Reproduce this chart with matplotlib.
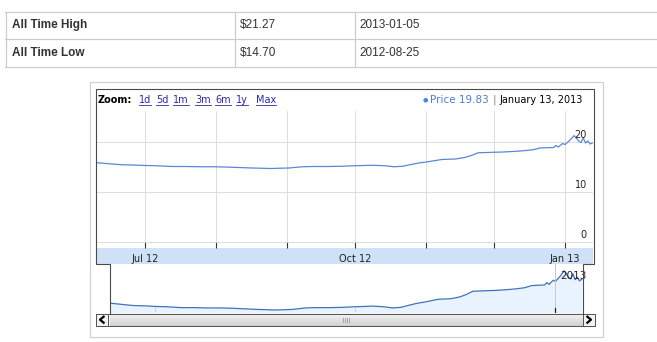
import datetime as dt
import numpy as np
import matplotlib
matplotlib.use("Agg")
import matplotlib.pyplot as plt
import matplotlib.dates as mdates
from matplotlib.patches import Rectangle
from matplotlib import font_manager

# ---------------- data ----------------
table_labels = ["All Time High", "All Time Low"]
table_values = ["$21.27", "$14.70"]
table_dates = ["2013-01-05", "2012-08-25"]

zoom_links = ["1d", "5d", "1m", "3m", "6m", "1y", "Max"]
legend_label = "Price 19.83"
legend_date = "January 13, 2013"

dates = ["2012-06-10", "2012-06-14", "2012-06-18", "2012-06-21", "2012-06-26",
         "2012-07-01", "2012-07-06", "2012-07-13", "2012-07-19", "2012-07-25",
         "2012-07-31", "2012-08-05", "2012-08-11", "2012-08-17", "2012-08-21",
         "2012-08-25", "2012-08-29", "2012-09-02", "2012-09-08", "2012-09-13",
         "2012-09-19", "2012-09-25", "2012-10-01", "2012-10-05", "2012-10-09",
         "2012-10-14", "2012-10-18", "2012-10-22", "2012-10-25", "2012-10-29",
         "2012-11-02", "2012-11-08", "2012-11-14", "2012-11-18", "2012-11-21",
         "2012-11-24", "2012-11-28", "2012-12-01", "2012-12-05", "2012-12-11",
         "2012-12-15", "2012-12-18", "2012-12-21", "2012-12-24", "2012-12-27",
         "2012-12-28", "2012-12-29", "2012-12-31", "2013-01-01", "2013-01-03",
         "2013-01-05", "2013-01-07", "2013-01-08", "2013-01-09", "2013-01-10",
         "2013-01-11", "2013-01-12", "2013-01-13"]
prices = [15.85, 15.70, 15.55, 15.45, 15.40,
          15.30, 15.25, 15.10, 15.10, 15.05,
          15.05, 15.00, 14.90, 14.80, 14.75,
          14.70, 14.75, 14.80, 15.05, 15.10,
          15.10, 15.15, 15.25, 15.30, 15.35,
          15.25, 15.05, 15.15, 15.45, 15.80,
          16.05, 16.50, 16.60, 16.90, 17.30,
          17.85, 17.90, 17.95, 18.00, 18.15,
          18.30, 18.45, 18.80, 18.85, 18.90,
          19.30, 19.00, 19.70, 19.50, 20.30,
          21.27, 20.20, 19.90, 20.80, 19.80,
          20.20, 19.60, 19.83]

month_ticks = ["2012-07-01", "2012-08-01", "2012-09-01", "2012-10-01",
               "2012-11-01", "2012-12-01", "2013-01-01"]
month_labels = ["Jul 12", "", "", "Oct 12", "", "", "Jan 13"]
y_ticks = [0, 10, 20]
year_marker = "2013-01-01"
year_label = "2013"

# ---------------- layout ----------------
W, H = 657, 342
fig = plt.figure(figsize=(W / 100, H / 100), dpi=100)
fig.patch.set_facecolor("white")


def rect(x0, y0, x1, y1):
    return [x0 / W, 1 - y1 / H, (x1 - x0) / W, (y1 - y0) / H]


names = {f.name for f in font_manager.fontManager.ttflist}
if "Liberation Sans Narrow" in names:
    tfont, tsize = "Liberation Sans Narrow", 9.5
else:
    tfont, tsize = "Liberation Sans", 8.5
cfont = "DejaVu Sans"

bg = fig.add_axes([0, 0, 1, 1])
bg.set_xlim(0, W)
bg.set_ylim(H, 0)
bg.axis("off")
bg.set_zorder(0)

px = 0.72  # one pixel in points

# ---------------- table ----------------
tcol = "#cccccc"
for y in (11.5, 38.5, 66.5):
    bg.plot([5, W], [y, y], color=tcol, lw=px * 1.2)
for x in (5.5, 234.5, 354.5):
    bg.plot([x, x], [11.5, 66.5], color=tcol, lw=px * 1.2)
for i in range(2):
    yc = 25 + 28 * i
    bg.text(12, yc, table_labels[i], fontsize=tsize, family=tfont,
            weight="bold", color="#333333", va="center", ha="left")
    bg.text(240, yc, table_values[i], fontsize=tsize, family=tfont,
            color="#333333", va="center", ha="left")
    bg.text(359, yc, table_dates[i], fontsize=tsize, family=tfont,
            color="#333333", va="center", ha="left")

# ---------------- outer light box ----------------
bg.add_patch(Rectangle((89.5, 81.5), 513, 255, fill=False,
                       edgecolor="#d0d0d0", lw=px * 1.2))

# header
bg.text(98, 100, "Zoom:", fontsize=7, family=cfont, weight="bold",
        color="black", va="center", ha="left")
link_x = [139, 156, 173, 195, 215, 236, 256]
link_texts = []
for lx, lab in zip(link_x, zoom_links):
    link_texts.append(bg.text(lx, 100, lab, fontsize=7, family=cfont,
                              color="#2a2aa8", va="center", ha="left"))

date_t = bg.text(583, 100, legend_date, fontsize=7, family=cfont,
                 color="black", va="center", ha="right")

# ---------------- main chart ----------------
dnum = mdates.date2num([dt.datetime.strptime(d, "%Y-%m-%d") for d in dates])
mnum = mdates.date2num([dt.datetime.strptime(d, "%Y-%m-%d") for d in month_ticks])
jul1, oct1 = mnum[0], mnum[3]

ax = fig.add_axes(rect(96, 111, 593, 248))
ax.set_zorder(2)
ax.patch.set_alpha(0)
s = (oct1 - jul1) / (355 - 145)
ax.set_xlim(jul1 - (145 - 96) * s, jul1 + (593 - 145) * s)
ax.set_ylim(-1.2, 26.2)
ax.set_xticks(mnum)
ax.set_xticklabels(month_labels, fontsize=7, family=cfont, color="#222222")
ax.set_yticks(y_ticks)
ax.set_yticklabels([])
ax.tick_params(axis="x", direction="in", length=4, width=0.8, color="#333333",
               pad=4)
ax.tick_params(axis="y", length=0)
ax.grid(True, color="#dcdcdc", lw=0.7)
for sp in ax.spines.values():
    sp.set_visible(False)
ax.plot(dnum, prices, color="#5b87d8", lw=0.9, zorder=3)
for v in y_ticks:
    ax.annotate(str(v), xy=(1, v), xycoords=("axes fraction", "data"),
                xytext=(-4.5, 1.5), textcoords="offset points",
                ha="right", va="bottom", fontsize=7, family=cfont,
                color="#222222")

# x-axis band
bg.add_patch(Rectangle((96, 248), 497, 15.5, facecolor="#cfe1f6",
                       edgecolor="none"))

# ---------------- navigator ----------------
nav = fig.add_axes(rect(109.5, 263.5, 582.5, 313))
nav.set_zorder(1)
s2 = (oct1 - jul1) / (355 - 155)
nav.set_xlim(jul1 - (155 - 109) * s2, jul1 + (582 - 155) * s2)
nav.set_ylim(14.2, 22.5)
nav.fill_between(dnum, prices, 14.2, color="#e9f3fd", lw=0)
nav.plot(dnum, prices, color="#3f72bd", lw=0.9)
ynum = mdates.date2num(dt.datetime.strptime(year_marker, "%Y-%m-%d"))
nav.axvline(ynum, color="#c8c8c8", lw=0.7)
nav.axvline(ynum, ymin=0, ymax=0.1, color="#222222", lw=0.9)
for m in (mnum[0], mnum[3]):
    nav.axvline(m, ymin=0.05, ymax=0.13, color="#cfcfcf", lw=0.7)
nav.annotate(year_label, xy=(ynum, 1), xycoords=("data", "axes fraction"),
             xytext=(3.5, -9), textcoords="offset points", ha="left",
             va="center", fontsize=7.5, family=cfont, color="#222222",
             annotation_clip=False)
nav.set_xticks([])
nav.set_yticks([])
for sp in nav.spines.values():
    sp.set_visible(False)

# ---------------- borders / scrollbar (overlay) ----------------
ov = fig.add_axes([0, 0, 1, 1])
ov.set_xlim(0, W)
ov.set_ylim(H, 0)
ov.axis("off")
ov.set_zorder(3)
ov.patch.set_alpha(0)

grad = np.linspace(0.96, 0.82, 20)
img = np.dstack([grad, grad, grad]).reshape(20, 1, 3)
ov.imshow(img, extent=[109.5, 582.5, 326, 313.5], aspect="auto",
          origin="upper", interpolation="bilinear", zorder=1)
ov.set_xlim(0, W)
ov.set_ylim(H, 0)
for x0 in (95.5, 582.5):
    ov.add_patch(Rectangle((x0, 313.5), 12, 12.5, facecolor="#f2f2f2",
                           edgecolor="#555555", lw=px, zorder=2))
ov.add_patch(Rectangle((95.5, 313.5), 499, 12.5, fill=False,
                       edgecolor="#555555", lw=px, zorder=3))
ov.plot([104.5, 100, 104.5], [316, 319.7, 323.4], color="black", lw=1.6,
        zorder=4, solid_capstyle="butt")
ov.plot([586.5, 591, 586.5], [316, 319.7, 323.4], color="black", lw=1.6,
        zorder=4, solid_capstyle="butt")
for gx in (342.5, 344.5, 346.5, 348.5):
    ov.plot([gx, gx], [317.5, 322], color="#9a9a9a", lw=0.6, zorder=4)

ov.plot([109.5, 109.5, 95.5, 95.5, 593.5, 593.5, 582.5, 582.5],
        [313.5, 263.5, 263.5, 88.5, 88.5, 263.5, 263.5, 313.5],
        color="#4a4a4a", lw=px * 1.1, zorder=5, solid_joinstyle="miter")

# underline links + legend placed right-to-left
fig.canvas.draw()
r = fig.canvas.get_renderer()
inv = bg.transData.inverted()


def left_px(t):
    bb = t.get_window_extent(r)
    return inv.transform([(bb.x0, bb.y0)])[0][0]


for t in link_texts:
    bb = t.get_window_extent(r)
    (x0, _), (x1, _) = inv.transform([(bb.x0, bb.y0), (bb.x1, bb.y0)])
    bg.plot([x0, x1], [104.5, 104.5], color="#2a2aa8", lw=0.6)

dl = left_px(date_t)
bar_t = bg.text(dl - 5, 100, "|", fontsize=7.5, family=cfont,
                color="#888888", va="center", ha="center")
price_t = bg.text(dl - 11, 100, legend_label, fontsize=7.5, family=cfont,
                  color="#4a7fd8", va="center", ha="right")
fig.canvas.draw()
pl = left_px(price_t)
bg.text(pl - 4, 99.5, "\u25CF", fontsize=4.5, family=cfont, color="#4684ee",
        va="center", ha="center")

fig.savefig("out.png", dpi=100, facecolor="white")
